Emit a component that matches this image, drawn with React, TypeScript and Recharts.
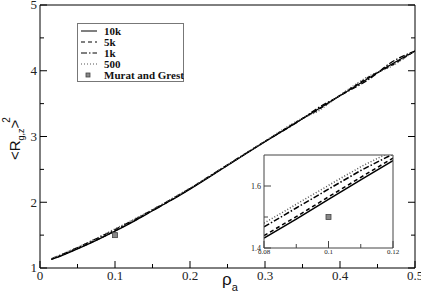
import { ComposedChart, Line, Scatter, XAxis, YAxis, Legend } from 'recharts'

// main panel: <R_gz>^2 vs rho_a
const rho = [0.015, 0.025, 0.05, 0.075, 0.1, 0.125, 0.15, 0.175, 0.2, 0.25, 0.3, 0.35, 0.37, 0.4, 0.45, 0.46, 0.5]
const r10k = [1.13, 1.17, 1.29, 1.42, 1.56, 1.71, 1.87, 2.03, 2.2, 2.56, 2.92, 3.27, 3.41, 3.62, 3.97, 4.04, 4.3]
const r5k = [1.13, 1.175, 1.295, 1.425, 1.565, 1.715, 1.875, 2.035, 2.205, 2.565, 2.925, 3.275, 3.4, 3.625, 3.975, 4.03, 4.3]
const r1k = [1.14, 1.185, 1.31, 1.445, 1.585, 1.73, 1.885, 2.045, 2.21, 2.57, 2.925, 3.27, 3.43, 3.62, 3.965, 4.06, 4.3]
const r500 = [1.14, 1.19, 1.315, 1.45, 1.595, 1.74, 1.89, 2.05, 2.215, 2.57, 2.93, 3.28, 3.38, 3.63, 3.98, 4.02, 4.31]

// inset zoom around rho_a = 0.1
const insetRho = [0.08, 0.09, 0.1, 0.11, 0.12]
const in10k = [1.432, 1.493, 1.557, 1.62, 1.682]
const in5k = [1.44, 1.501, 1.565, 1.628, 1.69]
const in1k = [1.468, 1.529, 1.59, 1.65, 1.703]
const in500 = [1.48, 1.541, 1.602, 1.662, 1.714]

const muratRho = [0.1]
const muratR = [1.5]

const xTicks = [0, 0.05, 0.1, 0.15, 0.2, 0.25, 0.3, 0.35, 0.4, 0.45, 0.5]
const yTicks = [1, 1.5, 2, 2.5, 3, 3.5, 4, 4.5, 5]
const insetXTicks = [0.08, 0.09, 0.1, 0.11, 0.12]
const insetYTicks = [1.4, 1.5, 1.6]

const toRows = (xs: number[], ys: number[]) => xs.map((x, i) => ({ x, y: ys[i] }))

const series = [
  { name: '10k', main: r10k, inset: in10k, dash: undefined, color: '#000' },
  { name: '5k', main: r5k, inset: in5k, dash: '4 3', color: '#000' },
  { name: '1k', main: r1k, inset: in1k, dash: '6 2 1.5 2', color: '#000' },
  { name: '500', main: r500, inset: in500, dash: '1 2', color: '#555' },
]

const murat = toRows(muratRho, muratR)

const serif = 'Liberation Serif, serif'
const sans = 'Liberation Sans, Arial, sans-serif'

const onStep = (v: number, step: number) => Math.abs(v / step - Math.round(v / step)) < 1e-6
const fmt = (v: number) => String(Math.round(v * 100) / 100)

const makeTick =
  (side: 'bottom' | 'top' | 'left' | 'right', step: number, big: number, small: number, font: number, labels: boolean, color = '#000') =>
  (p: any) => {
    const { x, y, payload } = p
    const v = payload.value as number
    const len = onStep(v, step) ? big : small
    const showLabel = labels && onStep(v, step)
    let line
    if (side === 'bottom') line = <line x1={x} y1={y} x2={x} y2={y - len} stroke={color} />
    else if (side === 'top') line = <line x1={x} y1={y} x2={x} y2={y + len} stroke={color} />
    else if (side === 'left') line = <line x1={x} y1={y} x2={x + len} y2={y} stroke={color} />
    else line = <line x1={x} y1={y} x2={x - len} y2={y} stroke={color} />
    return (
      <g>
        {line}
        {showLabel && side === 'bottom' && (
          <text x={x} y={y + font * 0.92} textAnchor="middle" fontSize={font} fontFamily={serif} fill="#222">
            {fmt(v)}
          </text>
        )}
        {showLabel && side === 'left' && (
          <text x={x - 3} y={y + font * 0.34} textAnchor="end" fontSize={font} fontFamily={serif} fill="#222">
            {fmt(v)}
          </text>
        )}
      </g>
    )
  }

function LegendBox() {
  return (
    <svg width={107} height={59} style={{ display: 'block' }}>
      <rect x={0.5} y={0.5} width={106} height={58} fill="#fff" stroke="#777" />
      {series.map((s, i) => (
        <g key={s.name}>
          <line x1={4} x2={20} y1={8 + 11 * i} y2={8 + 11 * i} stroke={s.color} strokeDasharray={s.dash} />
          <text x={27} y={12 + 11 * i} fontSize={11} fontWeight="bold" fontFamily={serif} fill="#111">
            {s.name}
          </text>
        </g>
      ))}
      <rect x={9} y={50} width={4} height={4} fill="#888" stroke="#444" strokeWidth={0.8} />
      <text x={27} y={56} fontSize={11} fontWeight="bold" fontFamily={serif} fill="#111">
        Murat and Grest
      </text>
    </svg>
  )
}

const square = (p: any) => (
  <rect x={p.cx - 2.5} y={p.cy - 2.5} width={5} height={5} fill="#888" stroke="#444" strokeWidth={0.8} />
)

export default function App() {
  return (
    <div style={{ position: 'absolute', left: 0, top: 0, width: 421, height: 304, background: '#fff' }}>
      <ComposedChart width={421} height={304} margin={{ top: 0, right: 0, bottom: 0, left: 0 }}>
        <XAxis
          dataKey="x"
          type="number"
          domain={[0, 0.5]}
          ticks={xTicks}
          interval={0}
          height={36}
          tickSize={0}
          tickMargin={0}
          stroke="#000"
          tick={makeTick('bottom', 0.1, 7, 4, 13, true)}
          allowDataOverflow
          label={{
            content: () => (
              <text x={222} y={285} fontFamily={sans} fill="#111">
                <tspan fontSize={17}>ρ</tspan>
                <tspan fontSize={11} dy={6}>a</tspan>
              </text>
            ),
          }}
        />
        <XAxis
          xAxisId="top"
          orientation="top"
          type="number"
          domain={[0, 0.5]}
          ticks={xTicks}
          interval={0}
          height={5}
          tickSize={0}
          tickMargin={0}
          stroke="#000"
          tick={makeTick('top', 0.1, 7, 4, 13, false)}
          allowDataOverflow
        />
        <YAxis
          type="number"
          domain={[1, 5]}
          ticks={yTicks}
          interval={0}
          width={40}
          tickSize={0}
          tickMargin={0}
          stroke="#000"
          tick={makeTick('left', 1, 7, 4, 13, true)}
          allowDataOverflow
          label={{
            content: () => (
              <text transform="translate(20,160) rotate(-90)" fontFamily={sans} fill="#111">
                <tspan fontSize={15}>{'<R'}</tspan>
                <tspan fontSize={9} dy={4}>g,z</tspan>
                <tspan fontSize={15} dy={-4}>{'>'}</tspan>
                <tspan fontSize={10} dx={-3} dy={-10}>2</tspan>
              </text>
            ),
          }}
        />
        <YAxis
          yAxisId="right"
          orientation="right"
          type="number"
          domain={[1, 5]}
          ticks={yTicks}
          interval={0}
          width={6}
          tickSize={0}
          tickMargin={0}
          stroke="#000"
          tick={makeTick('right', 1, 7, 4, 13, false)}
          allowDataOverflow
        />
        {series.map(s => (
          <Line
            key={s.name}
            data={toRows(rho, s.main)}
            dataKey="y"
            type="monotone"
            stroke={s.color}
            strokeWidth={1.3}
            strokeDasharray={s.dash}
            dot={false}
            isAnimationActive={false}
          />
        ))}
        <Scatter data={murat} dataKey="y" shape={square} isAnimationActive={false} />
        <Legend
          layout="vertical"
          align="center"
          verticalAlign="middle"
          width={107}
          height={59}
          wrapperStyle={{ left: 77, top: 23, width: 107, height: 59 }}
          content={() => <LegendBox />}
        />
      </ComposedChart>

      <div style={{ position: 'absolute', left: 244, top: 145 }}>
        <ComposedChart width={160} height={120} margin={{ top: 0, right: 0, bottom: 0, left: 0 }}>
          <XAxis
            dataKey="x"
            type="number"
            domain={[0.08, 0.12]}
            ticks={insetXTicks}
            interval={0}
            height={17}
            tickSize={0}
            tickMargin={0}
            stroke="#444"
            tick={makeTick('bottom', 0.02, 7, 4, 7, true, '#444')}
            allowDataOverflow
          />
          <XAxis xAxisId="top" orientation="top" type="number" domain={[0.08, 0.12]} height={10} tick={false} tickLine={false} stroke="#444" allowDataOverflow />
          <YAxis
            type="number"
            domain={[1.4, 1.7]}
            ticks={insetYTicks}
            interval={0}
            width={20}
            tickSize={0}
            tickMargin={0}
            stroke="#444"
            tick={makeTick('left', 0.2, 7, 4, 8, true, '#444')}
            allowDataOverflow
          />
          <YAxis yAxisId="right" orientation="right" type="number" domain={[1.4, 1.7]} width={11} tick={false} tickLine={false} stroke="#444" allowDataOverflow />
          {series.map(s => (
            <Line
              key={s.name}
              data={toRows(insetRho, s.inset)}
              dataKey="y"
              type="linear"
              stroke={s.color}
              strokeWidth={1.5}
              strokeDasharray={s.dash}
              dot={false}
              isAnimationActive={false}
            />
          ))}
          <Scatter data={murat} dataKey="y" shape={square} isAnimationActive={false} />
        </ComposedChart>
      </div>
    </div>
  )
}
